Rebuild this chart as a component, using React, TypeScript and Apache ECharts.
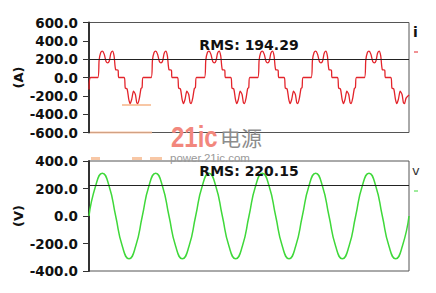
import React, { useEffect, useRef } from "react";
import * as echarts from "echarts";

// current waveform i(t): [time ms, amps]
const currentData: number[][] = [
  [0, -130], [0.6, 0], [3.3, 0], [3.8, 190], [4.4, 272], [5.0, 288], [5.7, 255], [6.4, 175], [7.0, 160], [7.6, 180], [8.2, 265], [8.8, 288], [9.4, 235], [10.0, 85], [10.9, 80], [11.1, 0], [13.2, 0], [13.6, -115], [14.3, -125], [14.9, -235], [15.4, -285], [16.0, -240], [16.7, -150], [17.4, -185], [17.9, -275], [18.3, -285], [18.9, -225], [19.5, -120], [19.9, -110], [20.3, 0],
  [23.3, 0], [23.8, 190], [24.4, 272], [25.0, 288], [25.7, 255], [26.4, 175], [27.0, 160], [27.6, 180], [28.2, 265], [28.8, 288], [29.4, 235], [30.0, 85], [30.9, 80], [31.1, 0], [33.2, 0], [33.6, -115], [34.3, -125], [34.9, -235], [35.4, -285], [36.0, -240], [36.7, -150], [37.4, -185], [37.9, -275], [38.3, -285], [38.9, -225], [39.5, -120], [39.9, -110], [40.3, 0],
  [43.3, 0], [43.8, 190], [44.4, 272], [45.0, 288], [45.7, 255], [46.4, 175], [47.0, 160], [47.6, 180], [48.2, 265], [48.8, 288], [49.4, 235], [50.0, 85], [50.9, 80], [51.1, 0], [53.2, 0], [53.6, -115], [54.3, -125], [54.9, -235], [55.4, -285], [56.0, -240], [56.7, -150], [57.4, -185], [57.9, -275], [58.3, -285], [58.9, -225], [59.5, -120], [59.9, -110], [60.3, 0],
  [63.3, 0], [63.8, 190], [64.4, 272], [65.0, 288], [65.7, 255], [66.4, 175], [67.0, 160], [67.6, 180], [68.2, 265], [68.8, 288], [69.4, 235], [70.0, 85], [70.9, 80], [71.1, 0], [73.2, 0], [73.6, -115], [74.3, -125], [74.9, -235], [75.4, -285], [76.0, -240], [76.7, -150], [77.4, -185], [77.9, -275], [78.3, -285], [78.9, -225], [79.5, -120], [79.9, -110], [80.3, 0],
  [83.3, 0], [83.8, 190], [84.4, 272], [85.0, 288], [85.7, 255], [86.4, 175], [87.0, 160], [87.6, 180], [88.2, 265], [88.8, 288], [89.4, 235], [90.0, 85], [90.9, 80], [91.1, 0], [93.2, 0], [93.6, -115], [94.3, -125], [94.9, -235], [95.4, -285], [96.0, -240], [96.7, -150], [97.4, -185], [97.9, -275], [98.3, -285], [98.9, -225], [99.5, -120], [99.9, -110], [100.3, 0],
  [103.3, 0], [103.8, 190], [104.4, 272], [105.0, 288], [105.7, 255], [106.4, 175], [107.0, 160], [107.6, 180], [108.2, 265], [108.8, 288], [109.4, 235], [110.0, 85], [110.9, 80], [111.1, 0], [113.2, 0], [113.6, -115], [114.3, -125], [114.9, -235], [115.4, -285], [116.0, -240], [116.7, -150], [117.4, -185], [117.9, -275], [118.3, -285], [118.9, -225], [120, -190],
];

// voltage waveform v(t): [time ms, volts]
const voltageData: number[][] = [
  [0, 0], [2.5, 220], [5, 311], [7.5, 220], [10, 0], [12.5, -220], [15, -311], [17.5, -220],
  [20, 0], [22.5, 220], [25, 311], [27.5, 220], [30, 0], [32.5, -220], [35, -311], [37.5, -220],
  [40, 0], [42.5, 220], [45, 311], [47.5, 220], [50, 0], [52.5, -220], [55, -311], [57.5, -220],
  [60, 0], [62.5, 220], [65, 311], [67.5, 220], [70, 0], [72.5, -220], [75, -311], [77.5, -220],
  [80, 0], [82.5, 220], [85, 311], [87.5, 220], [90, 0], [92.5, -220], [95, -311], [97.5, -220],
  [100, 0], [102.5, 220], [105, 311], [107.5, 220], [110, 0], [112.5, -220], [115, -311], [117.5, -220],
  [120, 0],
];

const currentRms = 194.29;
const voltageRms = 220.15;
const currentAxis = { min: -600, max: 600, interval: 200, name: "(A)" };
const voltageAxis = { min: -400, max: 400, interval: 200, name: "(V)" };
const timeRange = { min: 0, max: 120 };

const FONT = "DejaVu Sans";

export default function App() {
  const ref = useRef<HTMLDivElement>(null);
  useEffect(() => {
    if (!ref.current) return;
    const chart = echarts.init(ref.current, undefined, { renderer: "svg" });
    const yAxisBase = (ax: any, gridIndex: number) => ({
      type: "value",
      gridIndex,
      min: ax.min,
      max: ax.max,
      interval: ax.interval,
      name: ax.name,
      nameLocation: "middle",
      nameGap: 64,
      nameMoveOverlap: false,
      nameRotate: 90,
      nameTextStyle: { fontFamily: FONT, fontSize: 13, fontWeight: "bold", color: "#111" },
      axisLine: { show: true, lineStyle: { color: "#333", width: 2 } },
      axisTick: { show: true, length: 6, lineStyle: { color: "#333", width: 1 } },
      axisLabel: {
        margin: 11,
        fontFamily: FONT,
        fontSize: 13.5,
        fontWeight: "bold",
        color: "#111",
        formatter: (v: number) => v.toFixed(1),
      },
      splitLine: { show: false },
    });
    const rmsLine = (val: number) => ({
      silent: true,
      symbol: "none",
      lineStyle: { color: "#222", width: 1, type: "solid" },
      label: {
        show: true,
        position: "insideMiddleTop",
        distance: 8,
        formatter: "RMS: " + val.toFixed(2),
        fontFamily: FONT,
        fontSize: 14,
        fontWeight: "bold",
        color: "#111",
      },
      data: [{ yAxis: val }],
    });
    chart.setOption({
      animation: false,
      backgroundColor: "#fff",
      grid: [
        { left: 89, right: 27, top: 22.5, height: 110, show: true, borderColor: "#555", borderWidth: 1, backgroundColor: "transparent" },
        { left: 89, right: 27, top: 161, height: 110, show: true, borderColor: "#555", borderWidth: 1, backgroundColor: "transparent" },
      ],
      xAxis: [
        { type: "value", gridIndex: 0, min: timeRange.min, max: timeRange.max, show: false },
        { type: "value", gridIndex: 1, min: timeRange.min, max: timeRange.max, show: false },
      ],
      yAxis: [yAxisBase(currentAxis, 0), yAxisBase(voltageAxis, 1)],
      series: [
        {
          type: "line",
          xAxisIndex: 0,
          yAxisIndex: 0,
          data: currentData,
          showSymbol: false,
          smooth: 0.25,
          lineStyle: { color: "#e3242b", width: 1.3 },
          markLine: rmsLine(currentRms),
        },
        {
          type: "line",
          xAxisIndex: 1,
          yAxisIndex: 1,
          data: voltageData,
          showSymbol: false,
          smooth: 0.55,
          lineStyle: { color: "#3fd83a", width: 1.5 },
          markLine: rmsLine(voltageRms),
        },
      ],
      graphic: [
        { type: "text", x: 413, y: 25, style: { text: "i", font: `bold 14px '${FONT}'`, fill: "#111" } },
        { type: "line", shape: { x1: 414, y1: 52, x2: 418, y2: 52 }, style: { stroke: "#e3242b", lineWidth: 1 } },
        { type: "text", x: 412, y: 164, style: { text: "v", font: `13px '${FONT}'`, fill: "#333" } },
        { type: "line", shape: { x1: 414, y1: 191, x2: 418, y2: 191 }, style: { stroke: "#3fd83a", lineWidth: 1 } },
        // watermark smudges
        { type: "rect", shape: { x: 122, y: 104, width: 29, height: 2 }, style: { fill: "#f6b98e", opacity: 0.8 } },
        { type: "rect", shape: { x: 90, y: 131.5, width: 62, height: 2 }, style: { fill: "#f1b48f", opacity: 0.8 } },
        { type: "rect", shape: { x: 91, y: 157, width: 9, height: 3 }, style: { fill: "#f6b98e", opacity: 0.8 } },
        { type: "rect", shape: { x: 132, y: 157, width: 10, height: 3 }, style: { fill: "#f6b98e", opacity: 0.8 } },
        { type: "rect", shape: { x: 150, y: 157, width: 12, height: 3 }, style: { fill: "#f6b98e", opacity: 0.8 } },
        // watermark text
        {
          type: "text", x: 171, y: 137, scaleX: 0.8,
          style: { text: "21ic", font: "bold 30px 'Liberation Sans'", fill: "#f2877d", textVerticalAlign: "middle" },
        },
        {
          type: "text", x: 220, y: 137,
          style: { text: "电源", font: "21px 'Noto Sans CJK SC'", fill: "#8c8c8c", textVerticalAlign: "middle" },
        },
        {
          type: "text", x: 170, y: 158,
          style: { text: "power.21ic.com", font: "11.5px 'Liberation Sans'", fill: "#9a9a9a", textVerticalAlign: "middle" },
        },
      ],
    });
    return () => chart.dispose();
  }, []);
  return (
    <div
      ref={ref}
      style={{ position: "absolute", left: 0, top: 0, width: 436, height: 293, background: "#fff" }}
    />
  );
}
